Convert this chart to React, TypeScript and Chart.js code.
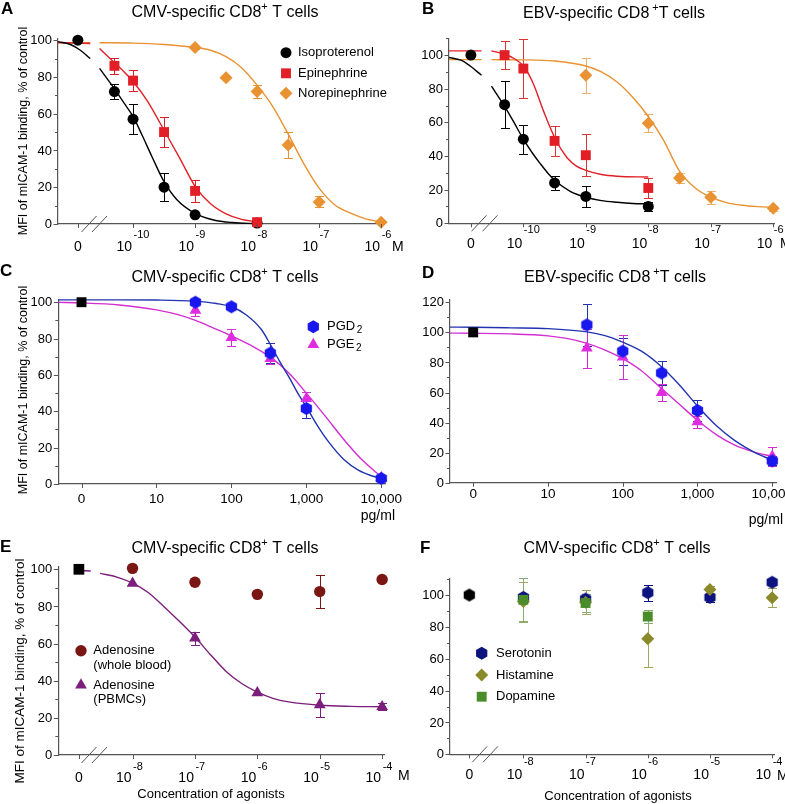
import React, { useEffect, useRef } from 'react';
import { Chart, registerables } from 'chart.js';

Chart.register(...registerables);

const FONT = "'Liberation Sans', Arial, Helvetica, sans-serif";
const AXIS = '#555555';
const CONTROL_VALUE = 100;

// ---------------- Panel A: CMV, beta agonists (x = log10 M) ----------------
const A_ZERO_X = -10.89;
const A_X_EXP = [-10, -9, -8, -7, -6];
const A_ISO_X = [-10.3, -10, -9.5, -9, -8];
const A_ISO_Y = [72, 57, 20, 5, 0.5];
const A_ISO_ERR = [4, 8, 7.5, 0, 0];
const A_EPI_X = [-10.3, -10, -9.5, -9, -8];
const A_EPI_Y = [86, 78, 50, 18, 1];
const A_EPI_ERR = [4.5, 5.5, 8, 6, 0];
const A_NOR_X = [-9, -8.5, -8, -7.5, -7, -6];
const A_NOR_Y = [96, 79.5, 72, 43, 12, 1];
const A_NOR_ERR = [1, 0, 3.5, 7, 3, 0];
const A_ISO_FIT_X = [-11.21, -11.0, -10.85, -10.69, -10.6, -10.54, -10.31, -10.15, -10.0, -9.85, -9.7, -9.5, -9.3, -9.0, -8.7, -8.4, -8.0];
const A_ISO_FIT_Y = [99.2, 97.5, 94.5, 90, null, 84.6, 74, 66, 58.5, 48, 37, 23, 13.5, 5.8, 2.2, 0.8, 0.2];
const A_EPI_FIT_X = [-11.21, -10.69, -10.6, -10.54, -10.31, -10.15, -10.0, -9.77, -9.5, -9.25, -9.0, -8.75, -8.5, -8.25, -8.0];
const A_EPI_FIT_Y = [98.7, 98.2, null, 95.5, 88, 83, 77.5, 67, 51, 36, 20.5, 11, 5.5, 2.5, 1.2];
const A_NOR_FIT_X = [-11.21, -10.69, -10.6, -10.54, -10.0, -9.5, -9.0, -8.75, -8.5, -8.25, -8.0, -7.75, -7.5, -7.25, -7.0, -6.75, -6.5, -6.25, -5.97];
const A_NOR_FIT_Y = [98.6, 98.6, null, 98.6, 98.4, 97.6, 96, 94.5, 91, 85, 75.5, 64, 49, 33, 19.5, 10.5, 6, 2.8, 1];

// ---------------- Panel B: EBV, beta agonists ----------------
const B_ZERO_X = -10.84;
const B_X_EXP = [-10, -9, -8, -7, -6];
const B_ISO_X = [-10.3, -10, -9.5, -9, -8];
const B_ISO_Y = [70.5, 50, 24, 16, 10];
const B_ISO_ERR = [14, 8.7, 4.4, 6.4, 2.5];
const B_EPI_X = [-10.3, -10, -9.5, -9, -8];
const B_EPI_Y = [100, 92, 49, 40.5, 21];
const B_EPI_ERR = [8.5, 17.5, 9, 12.5, 6];
const B_NOR_X = [-9, -8, -7.5, -7, -6];
const B_NOR_Y = [88, 59.5, 27, 15.5, 9];
const B_NOR_ERR = [10.5, 5.5, 3, 4, 1.5];
const B_ISO_FIT_X = [-11.19, -11.0, -10.85, -10.67, -10.6, -10.51, -10.3, -10.15, -10.0, -9.85, -9.73, -9.6, -9.48, -9.25, -9.0, -8.75, -8.5, -8.25, -8.0];
const B_ISO_FIT_Y = [98.6, 97, 93.5, 88, null, 81.5, 69.5, 60, 50, 41.5, 35.5, 29.5, 25, 19, 15.5, 13.5, 12.5, 11.8, 11.5];
const B_EPI_FIT_X = [-11.19, -10.67, -10.6, -10.51, -10.3, -10.15, -10.0, -9.84, -9.68, -9.48, -9.3, -9.15, -9.0, -8.75, -8.5, -8.0];
const B_EPI_FIT_Y = [102.5, 102.5, null, 102.5, 100.5, 98, 93.5, 83, 67, 49.5, 39, 34, 31.5, 29, 28, 27.5];
const B_NOR_FIT_X = [-11.19, -10.67, -10.6, -10.51, -10.0, -9.5, -9.0, -8.75, -8.5, -8.25, -8.0, -7.75, -7.5, -7.25, -7.0, -6.75, -6.5, -6.25, -5.98];
const B_NOR_FIT_Y = [97.3, 97.3, null, 97.3, 97.2, 96.5, 93.5, 90, 84, 75, 63.5, 49, 31, 21, 15.5, 12.3, 10.7, 9.9, 9.5];

// ---------------- Panel C: CMV, prostaglandins (x = log10 pg/ml) ----------------
const C_ZERO_X = 0;
const C_X_TICK_VALUES = [0, 1, 2, 3, 4];
const C_X_TICK_LABELS = ['0', '10', '100', '1,000', '10,000'];
const C_PGD_X = [1.52, 2, 2.52, 3, 4];
const C_PGD_Y = [100, 97.5, 72, 41.5, 3];
const C_PGD_ERR = [1.5, 1, 5.5, 5, 0];
const C_PGE_X = [1.52, 2, 2.52, 3, 4];
const C_PGE_Y = [95.5, 80.5, 69, 47, 3.5];
const C_PGE_ERR = [3, 4.5, 3, 3.5, 0];
const C_PGD_FIT_X = [-0.31, 0.5, 1.0, 1.5, 1.8, 2.0, 2.2, 2.4, 2.53, 2.65, 2.78, 2.9, 3.0, 3.15, 3.3, 3.5, 3.7, 3.85, 4.0];
const C_PGD_FIT_Y = [101.3, 101.3, 101.2, 100.6, 99.3, 97.5, 93, 85, 76, 67, 58, 49, 42.5, 32, 23, 13.5, 7.5, 4.8, 3];
const C_PGE_FIT_X = [-0.31, 0, 0.5, 1.0, 1.3, 1.52, 1.75, 2.0, 2.25, 2.53, 2.78, 3.0, 3.25, 3.5, 3.75, 4.0];
const C_PGE_FIT_Y = [99.9, 99.6, 98.5, 95.8, 93, 90, 86, 81.5, 76.5, 69.5, 60.5, 50, 37.5, 24.5, 13, 4];

// ---------------- Panel D: EBV, prostaglandins ----------------
const D_ZERO_X = 0;
const D_X_TICK_VALUES = [0, 1, 2, 3, 4];
const D_X_TICK_LABELS = ['0', '10', '100', '1,000', '10,000'];
const D_PGD_X = [1.52, 2, 2.52, 3, 4];
const D_PGD_Y = [105, 87.5, 73, 48, 14.5];
const D_PGD_ERR = [14, 9, 8, 7, 3];
const D_PGE_X = [1.52, 2, 2.52, 3, 4];
const D_PGE_Y = [89.5, 83.5, 60, 40.5, 17.5];
const D_PGE_ERR = [13, 14.5, 5.5, 4, 6.5];
const D_PGD_FIT_X = [-0.31, 0, 0.5, 1.0, 1.5, 1.75, 2.0, 2.25, 2.5, 2.75, 3.0, 3.25, 3.5, 3.75, 4.0];
const D_PGD_FIT_Y = [103.5, 103.4, 103, 102.5, 100.5, 98, 93.5, 87.5, 78, 65.5, 51, 38, 28, 20.5, 15];
const D_PGE_FIT_X = [-0.31, 0, 0.5, 1.0, 1.25, 1.5, 1.75, 2.0, 2.25, 2.5, 2.75, 3.0, 3.25, 3.5, 3.75, 4.0];
const D_PGE_FIT_Y = [99.5, 99.4, 99, 97.7, 96, 93, 88.5, 82.5, 74.5, 63.5, 52.5, 41.5, 32, 25, 20.5, 17.5];

// ---------------- Panel E: CMV, adenosine (x = log10 M) ----------------
const E_ZERO_X = -8.86;
const E_X_EXP = [-8, -7, -6, -5, -4];
const E_WB_X = [-8, -7, -6, -5, -4];
const E_WB_Y = [100.5, 93, 86.5, 88, 94.5];
const E_WB_ERR = [0, 0, 1.5, 9, 0];
const E_PB_X = [-8, -7, -6, -5, -4];
const E_PB_Y = [92.5, 63, 33.5, 27, 26];
const E_PB_ERR = [0, 3.5, 0, 6.5, 2];
const E_PB_FIT_X = [-8.86, -8.67, -8.6, -8.52, -8.25, -8.0, -7.75, -7.5, -7.25, -7.0, -6.75, -6.5, -6.25, -6.0, -5.75, -5.5, -5.0, -4.5, -4.0];
const E_PB_FIT_Y = [99.3, 99.1, null, 97.8, 95.8, 92.5, 87.5, 80, 72, 63.5, 54, 45, 38.5, 33.8, 30.5, 28.6, 26.8, 26.2, 26];

// ---------------- Panel F: CMV, amines ----------------
const F_ZERO_X = -8.87;
const F_X_EXP = [-8, -7, -6, -5, -4];
const F_SER_X = [-8, -7, -6, -5, -4];
const F_SER_Y = [98.5, 97.5, 101.5, 98.5, 108];
const F_SER_ERR = [0, 0, 5, 3, 2];
const F_HIS_X = [-8, -7, -6, -5, -4];
const F_HIS_Y = [96, 95.5, 72.5, 103.5, 98.3];
const F_HIS_ERR = [12, 7.5, 18, 2, 6];
const F_DOP_X = [-8, -7, -6];
const F_DOP_Y = [97, 95, 86.5];
const F_DOP_ERR = [14, 5.5, 4];

// ---------------- colours ----------------
const C_BLACK = '#000000';
const C_RED = '#E21F26';
const C_ORANGE = '#E99231';
const C_BLUE = '#1818EE';
const C_BLUE_LINE = '#2233B0';
const C_MAGENTA = '#E02CE0';
const C_MAGENTA_LINE = '#D22ED2';
const C_DARKRED = '#7A1714';
const C_PURPLE = '#7B1E7C';
const C_NAVY = '#0C137F';
const C_OLIVE = '#8B8A2B';
const C_GREEN = '#4A8C2A';

const expTicks = (exps: number[], zero: number) => [
  { v: zero, text: '0' },
  ...exps.map((e) => ({ v: e, exp: String(e) })),
];
const labTicks = (vals: number[], labels: string[]) => vals.map((v, i) => ({ v, text: labels[i] }));
const pts = (xs: number[], ys: any[]) => xs.map((x, i) => ({ x, y: ys[i] }));

const PANELS: any[] = [
  {
    id: 'A', box: { x: 0, y: 0, w: 404, h: 262 },
    plot: { l: 58, t: 38.3, r: 383, b: 224 },
    xMin: -11.21, xMax: -5.97, yMax: 101,
    yLabels: [0, 20, 40, 60, 80, 100], yMinor: [10, 30, 50, 70, 90],
    xTicks: expTicks(A_X_EXP, A_ZERO_X), tickBase: 251, expDy: -13, tickSize: 14,
    unit: { text: 'M', x: 392, y: 251, align: 'left' },
    breaks: [89, 99.5],
    title: { pre: 'CMV-specific CD8', post: ' T cells', gap: 0, x: 225, y: 17 },
    letter: { t: 'A', x: 1, y: 14 },
    yTitle: { x: 24, y: 131, size: 12.5 },
    control: { x: A_ZERO_X, style: 'circle', r: 5.5 },
    series: [
      { x: A_ISO_X, y: A_ISO_Y, err: A_ISO_ERR, color: C_BLACK, errColor: C_BLACK, style: 'circle', r: 5.5, order: 3 },
      { x: A_EPI_X, y: A_EPI_Y, err: A_EPI_ERR, color: C_RED, errColor: C_RED, style: 'rect', r: 7, order: 2 },
      { x: A_NOR_X, y: A_NOR_Y, err: A_NOR_ERR, color: C_ORANGE, errColor: C_ORANGE, style: 'rectRot', r: 6.5, order: 1 },
    ],
    curves: [
      { x: A_ISO_FIT_X, y: A_ISO_FIT_Y, color: C_BLACK },
      { x: A_EPI_FIT_X, y: A_EPI_FIT_Y, color: C_RED },
      { x: A_NOR_FIT_X, y: A_NOR_FIT_Y, color: C_ORANGE },
    ],
    legend: {
      mx: 286, tx: 298, size: 13, lineGap: 14,
      items: [
        { y: 52.7, style: 'circle', r: 5.5, color: C_BLACK, lines: ['Isoproterenol'] },
        { y: 73.3, style: 'rect', r: 7, color: C_RED, lines: ['Epinephrine'] },
        { y: 93.3, style: 'rectRot', r: 6.5, color: C_ORANGE, lines: ['Norepinephrine'] },
      ],
    },
  },
  {
    id: 'B', box: { x: 392, y: 0, w: 393, h: 262 },
    plot: { l: 449, t: 38.3, r: 774.5, b: 223.3 },
    xMin: -11.19, xMax: -5.98, yMax: 110,
    yLabels: [0, 20, 40, 60, 80, 100], yMinor: [10, 30, 50, 70, 90, 110],
    xTicks: expTicks(B_X_EXP, B_ZERO_X), tickBase: 248, expDy: -15, tickSize: 14,
    unit: { text: 'M', x: 780, y: 248, align: 'left' },
    breaks: [479, 490],
    title: { pre: 'EBV-specific CD8', post: 'T cells', gap: 3, x: 614, y: 18 },
    letter: { t: 'B', x: 422, y: 14 },
    control: { x: B_ZERO_X, style: 'circle', r: 5.5 },
    series: [
      { x: B_ISO_X, y: B_ISO_Y, err: B_ISO_ERR, color: C_BLACK, errColor: C_BLACK, style: 'circle', r: 5.5, order: 3 },
      { x: B_EPI_X, y: B_EPI_Y, err: B_EPI_ERR, color: C_RED, errColor: '#D83434', style: 'rect', r: 7, order: 2 },
      { x: B_NOR_X, y: B_NOR_Y, err: B_NOR_ERR, color: C_ORANGE, errColor: '#EDAE6C', style: 'rectRot', r: 6.5, order: 1 },
    ],
    curves: [
      { x: B_ISO_FIT_X, y: B_ISO_FIT_Y, color: C_BLACK },
      { x: B_EPI_FIT_X, y: B_EPI_FIT_Y, color: C_RED },
      { x: B_NOR_FIT_X, y: B_NOR_FIT_Y, color: C_ORANGE },
    ],
  },
  {
    id: 'C', box: { x: 0, y: 262, w: 404, h: 266 },
    plot: { l: 58.3, t: 299.3, r: 385, b: 484 },
    xMin: -0.31, xMax: 4.05, yMax: 101.6,
    yLabels: [0, 20, 40, 60, 80, 100], yMinor: [10, 30, 50, 70, 90],
    xTicks: labTicks(C_X_TICK_VALUES, C_X_TICK_LABELS), tickBase: 502.5, tickSize: 13.5,
    unit: { text: 'pg/ml', x: 395, y: 520, align: 'right' },
    title: { pre: 'CMV-specific CD8', post: ' T cells', gap: 0, x: 225, y: 281.5 },
    letter: { t: 'C', x: 0, y: 276 },
    yTitle: { x: 24, y: 390, size: 12.5 },
    control: { x: C_ZERO_X, style: 'rect', r: 7 },
    series: [
      { x: C_PGD_X, y: C_PGD_Y, err: C_PGD_ERR, color: C_BLUE, errColor: C_BLUE_LINE, style: 'hex', r: 6.5, order: 1 },
      { x: C_PGE_X, y: C_PGE_Y, err: C_PGE_ERR, color: C_MAGENTA, errColor: C_MAGENTA_LINE, style: 'triangle', r: 6.8, order: 2 },
    ],
    curves: [
      { x: C_PGD_FIT_X, y: C_PGD_FIT_Y, color: C_BLUE_LINE },
      { x: C_PGE_FIT_X, y: C_PGE_FIT_Y, color: C_MAGENTA_LINE },
    ],
    legend: {
      mx: 313.3, tx: 327, size: 13, lineGap: 14,
      items: [
        { y: 326.7, style: 'hex', r: 6.5, color: C_BLUE, lines: ['PGD'], sub: '2' },
        { y: 344.5, style: 'triangle', r: 6.8, color: C_MAGENTA, lines: ['PGE'], sub: '2' },
      ],
    },
  },
  {
    id: 'D', box: { x: 392, y: 262, w: 393, h: 266 },
    plot: { l: 450, t: 299.3, r: 776, b: 482.7 },
    xMin: -0.31, xMax: 4.05, yMax: 122,
    yLabels: [0, 20, 40, 60, 80, 100, 120], yMinor: [10, 30, 50, 70, 90, 110],
    xTicks: labTicks(D_X_TICK_VALUES, D_X_TICK_LABELS), tickBase: 498, tickSize: 13.5,
    unit: { text: 'pg/ml', x: 783, y: 523.5, align: 'right' },
    title: { pre: 'EBV-specific CD8', post: 'T cells', gap: 3, x: 615, y: 282 },
    letter: { t: 'D', x: 422, y: 278 },
    control: { x: D_ZERO_X, style: 'rect', r: 7 },
    series: [
      { x: D_PGD_X, y: D_PGD_Y, err: D_PGD_ERR, color: C_BLUE, errColor: C_BLUE_LINE, style: 'hex', r: 6.5, order: 1 },
      { x: D_PGE_X, y: D_PGE_Y, err: D_PGE_ERR, color: C_MAGENTA, errColor: C_MAGENTA_LINE, style: 'triangle', r: 6.8, order: 2 },
    ],
    curves: [
      { x: D_PGD_FIT_X, y: D_PGD_FIT_Y, color: C_BLUE_LINE },
      { x: D_PGE_FIT_X, y: D_PGE_FIT_Y, color: C_MAGENTA_LINE },
    ],
  },
  {
    id: 'E', box: { x: 0, y: 528, w: 414, h: 276 },
    plot: { l: 58.3, t: 566.7, r: 384, b: 755 },
    xMin: -9.19, xMax: -3.97, yMax: 101.4,
    yLabels: [0, 20, 40, 60, 80, 100], yMinor: [10, 30, 50, 70, 90],
    xTicks: expTicks(E_X_EXP, E_ZERO_X), tickBase: 782, expDy: -12, tickSize: 14,
    unit: { text: 'M', x: 398, y: 780, align: 'left' },
    breaks: [89, 99.5],
    title: { pre: 'CMV-specific CD8', post: ' T cells', gap: 0, x: 225, y: 553 },
    letter: { t: 'E', x: 0, y: 552 },
    yTitle: { x: 20, y: 671, size: 13.5 },
    xTitle: { text: 'Concentration of agonists', x: 211, y: 798 },
    control: { x: E_ZERO_X, style: 'rect', r: 7.6 },
    series: [
      { x: E_WB_X, y: E_WB_Y, err: E_WB_ERR, color: C_DARKRED, errColor: C_DARKRED, style: 'circle', r: 5.7, order: 1 },
      { x: E_PB_X, y: E_PB_Y, err: E_PB_ERR, color: C_PURPLE, errColor: C_PURPLE, style: 'triangle', r: 6.8, order: 2 },
    ],
    curves: [{ x: E_PB_FIT_X, y: E_PB_FIT_Y, color: C_PURPLE }],
    legend: {
      mx: 81, tx: 93.3, size: 13, lineGap: 14.3,
      items: [
        { y: 650.7, style: 'circle', r: 5.7, color: C_DARKRED, lines: ['Adenosine', '(whole blood)'] },
        { y: 685, style: 'triangle', r: 6.8, color: C_PURPLE, lines: ['Adenosine', '(PBMCs)'] },
      ],
    },
  },
  {
    id: 'F', box: { x: 392, y: 528, w: 393, h: 276 },
    plot: { l: 450, t: 578.3, r: 774, b: 754.3 },
    xMin: -9.18, xMax: -3.97, yMax: 110.5,
    yLabels: [0, 20, 40, 60, 80, 100], yMinor: [10, 30, 50, 70, 90, 110],
    xTicks: expTicks(F_X_EXP, F_ZERO_X), tickBase: 779, expDy: -14, tickSize: 14,
    unit: { text: 'M', x: 777, y: 780, align: 'left' },
    breaks: [479.7, 490.5],
    title: { pre: 'CMV-specific CD8', post: ' T cells', gap: 0, x: 617, y: 553 },
    letter: { t: 'F', x: 420, y: 553 },
    xTitle: { text: 'Concentration of agonists', x: 618, y: 800 },
    control: { x: F_ZERO_X, style: 'hex', r: 6.5 },
    series: [
      { x: F_SER_X, y: F_SER_Y, err: F_SER_ERR, color: C_NAVY, errColor: C_NAVY, style: 'hex', r: 6.5, order: 3 },
      { x: F_HIS_X, y: F_HIS_Y, err: F_HIS_ERR, color: C_OLIVE, errColor: '#A3A55E', style: 'rectRot', r: 6.5, order: 2 },
      { x: F_DOP_X, y: F_DOP_Y, err: F_DOP_ERR, color: C_GREEN, errColor: '#86AE72', style: 'rect', r: 7, order: 1 },
    ],
    curves: [],
    legend: {
      mx: 481.7, tx: 496, size: 13, lineGap: 14,
      items: [
        { y: 653.3, style: 'hex', r: 6.5, color: C_NAVY, lines: ['Serotonin'] },
        { y: 675, style: 'rectRot', r: 6.5, color: C_OLIVE, lines: ['Histamine'] },
        { y: 696.7, style: 'rect', r: 7, color: C_GREEN, lines: ['Dopamine'] },
      ],
    },
  },
];

function hexPath(ctx: CanvasRenderingContext2D, x: number, y: number, r: number) {
  ctx.beginPath();
  for (let k = 0; k < 6; k++) {
    const a = -Math.PI / 2 + (k * Math.PI) / 3;
    const px = x + r * Math.cos(a);
    const py = y + r * Math.sin(a);
    if (k === 0) ctx.moveTo(px, py);
    else ctx.lineTo(px, py);
  }
  ctx.closePath();
}

function makeHex(color: string, r: number): HTMLCanvasElement {
  const s = Math.ceil(r * 2 + 2);
  const c = document.createElement('canvas');
  c.width = s;
  c.height = s;
  const g = c.getContext('2d') as CanvasRenderingContext2D;
  g.fillStyle = color;
  hexPath(g, s / 2, s / 2, r);
  g.fill();
  return c;
}

function drawMarker(ctx: CanvasRenderingContext2D, style: string, color: string, x: number, y: number, r: number) {
  ctx.fillStyle = color;
  if (style === 'hex') {
    hexPath(ctx, x, y, r);
    ctx.fill();
    return;
  }
  ctx.beginPath();
  if (style === 'circle') ctx.arc(x, y, r, 0, Math.PI * 2);
  else if (style === 'rect') {
    const h = r * Math.SQRT1_2;
    ctx.rect(x - h, y - h, 2 * h, 2 * h);
  } else if (style === 'rectRot') {
    ctx.moveTo(x, y - r);
    ctx.lineTo(x + r, y);
    ctx.lineTo(x, y + r);
    ctx.lineTo(x - r, y);
    ctx.closePath();
  } else if (style === 'triangle') {
    ctx.moveTo(x, y - r);
    ctx.lineTo(x + r * 0.866, y + r * 0.5);
    ctx.lineTo(x - r * 0.866, y + r * 0.5);
    ctx.closePath();
  }
  ctx.fill();
}

function makeDecor(cfg: any) {
  const ox = cfg.box.x;
  const oy = cfg.box.y;
  return {
    id: 'decor' + cfg.id,
    beforeDatasetsDraw(chart: any) {
      const ctx: CanvasRenderingContext2D = chart.ctx;
      const xs = chart.scales.x;
      const ys = chart.scales.y;
      ctx.save();
      ctx.lineWidth = 1;
      chart.data.datasets.forEach((ds: any) => {
        if (!ds.err) return;
        ctx.strokeStyle = ds.errColor;
        ctx.beginPath();
        ds.data.forEach((p: any, i: number) => {
          const e = ds.err[i];
          if (!e) return;
          const px = Math.round(xs.getPixelForValue(p.x)) + 0.5;
          const y1 = Math.round(ys.getPixelForValue(p.y + e)) + 0.5;
          const y2 = Math.round(ys.getPixelForValue(p.y - e)) + 0.5;
          ctx.moveTo(px, y1);
          ctx.lineTo(px, y2);
          ctx.moveTo(px - 4.5, y1);
          ctx.lineTo(px + 4.5, y1);
          ctx.moveTo(px - 4.5, y2);
          ctx.lineTo(px + 4.5, y2);
        });
        ctx.stroke();
      });
      ctx.restore();
    },
    afterDraw(chart: any) {
      const ctx: CanvasRenderingContext2D = chart.ctx;
      const xs = chart.scales.x;
      const ys = chart.scales.y;
      const area = chart.chartArea;
      ctx.save();
      // tick marks
      ctx.strokeStyle = AXIS;
      ctx.lineWidth = 1;
      ctx.beginPath();
      cfg.yLabels.forEach((v: number) => {
        const py = Math.round(ys.getPixelForValue(v)) + 0.5;
        ctx.moveTo(area.left - 4.5, py);
        ctx.lineTo(area.left, py);
      });
      cfg.yMinor.forEach((v: number) => {
        const py = Math.round(ys.getPixelForValue(v)) + 0.5;
        ctx.moveTo(area.left - 3, py);
        ctx.lineTo(area.left, py);
      });
      cfg.xTicks.forEach((t: any) => {
        const px = Math.round(xs.getPixelForValue(t.v)) + 0.5;
        ctx.moveTo(px, area.bottom);
        ctx.lineTo(px, area.bottom + 4);
      });
      ctx.stroke();
      // axis break
      if (cfg.breaks) {
        ctx.beginPath();
        cfg.breaks.forEach((bx: number) => {
          const cx = bx - ox;
          ctx.moveTo(cx - 7.5, area.bottom + 8);
          ctx.lineTo(cx + 7.5, area.bottom - 8);
        });
        ctx.stroke();
      }
      ctx.fillStyle = '#000';
      // y tick labels
      ctx.font = `13px ${FONT}`;
      ctx.textAlign = 'right';
      ctx.textBaseline = 'middle';
      cfg.yLabels.forEach((v: number) => {
        ctx.fillText(String(v), area.left - 6, ys.getPixelForValue(v) + 0.5);
      });
      // x tick labels
      ctx.textBaseline = 'alphabetic';
      const base = cfg.tickBase - oy;
      cfg.xTicks.forEach((t: any) => {
        const px = xs.getPixelForValue(t.v);
        if (t.exp) {
          ctx.font = `${cfg.tickSize}px ${FONT}`;
          ctx.textAlign = 'right';
          ctx.fillText('10', px - 1, base);
          ctx.font = `11px ${FONT}`;
          ctx.textAlign = 'left';
          ctx.fillText(t.exp, px + 0.5, base + cfg.expDy);
        } else {
          ctx.font = `${cfg.tickSize}px ${FONT}`;
          ctx.textAlign = 'center';
          ctx.fillText(t.text, px, base);
        }
      });
      // unit
      if (cfg.unit) {
        ctx.font = `14px ${FONT}`;
        ctx.textAlign = cfg.unit.align;
        ctx.fillText(cfg.unit.text, cfg.unit.x - ox, cfg.unit.y - oy);
      }
      // title with superscript
      {
        const t = cfg.title;
        ctx.font = `16px ${FONT}`;
        const w1 = ctx.measureText(t.pre).width;
        const w3 = ctx.measureText(t.post).width;
        ctx.font = `11px ${FONT}`;
        const w2 = ctx.measureText('+').width + t.gap;
        const total = w1 + w2 + w3;
        let x = t.x - ox - total / 2;
        const y = t.y - oy;
        ctx.textAlign = 'left';
        ctx.font = `16px ${FONT}`;
        ctx.fillText(t.pre, x, y);
        x += w1;
        ctx.font = `11px ${FONT}`;
        ctx.fillText('+', x + t.gap, y - 7);
        x += w2;
        ctx.font = `16px ${FONT}`;
        ctx.fillText(t.post, x, y);
      }
      // panel letter
      ctx.font = `bold 17px ${FONT}`;
      ctx.textAlign = 'left';
      ctx.fillText(cfg.letter.t, cfg.letter.x - ox, cfg.letter.y - oy);
      // y axis title
      if (cfg.yTitle) {
        ctx.save();
        ctx.translate(cfg.yTitle.x - ox, cfg.yTitle.y - oy);
        ctx.rotate(-Math.PI / 2);
        ctx.font = `${cfg.yTitle.size}px ${FONT}`;
        ctx.textAlign = 'center';
        ctx.textBaseline = 'middle';
        ctx.fillText('MFI of mICAM-1 binding, % of control', 0, 0);
        ctx.restore();
      }
      // x axis title
      if (cfg.xTitle) {
        ctx.font = `13px ${FONT}`;
        ctx.textAlign = 'center';
        ctx.textBaseline = 'alphabetic';
        ctx.fillText(cfg.xTitle.text, cfg.xTitle.x - ox, cfg.xTitle.y - oy);
      }
      // legend
      if (cfg.legend) {
        const L = cfg.legend;
        L.items.forEach((it: any) => {
          drawMarker(ctx, it.style, it.color, L.mx - ox, it.y - oy, it.r);
          ctx.fillStyle = '#000';
          ctx.textAlign = 'left';
          ctx.textBaseline = 'middle';
          it.lines.forEach((line: string, k: number) => {
            ctx.font = `${L.size}px ${FONT}`;
            const ty = it.y - oy + k * L.lineGap;
            ctx.fillText(line, L.tx - ox, ty);
            if (it.sub && k === 0) {
              const w = ctx.measureText(line).width;
              ctx.font = `10px ${FONT}`;
              ctx.fillText(it.sub, L.tx - ox + w + 1.5, ty + 3.5);
            }
          });
        });
      }
      ctx.restore();
    },
  };
}

function pointStyleFor(style: string, color: string, r: number): any {
  if (style === 'hex') return makeHex(color, r);
  return style;
}

function createChart(canvas: HTMLCanvasElement, cfg: any) {
  const datasets: any[] = [];
  datasets.push({
    data: [{ x: cfg.control.x, y: CONTROL_VALUE }],
    pointStyle: pointStyleFor(cfg.control.style, C_BLACK, cfg.control.r),
    pointRadius: cfg.control.r,
    pointBackgroundColor: C_BLACK,
    pointBorderWidth: 0,
    showLine: false,
    clip: false,
    order: 0,
  });
  cfg.series.forEach((s: any) => {
    datasets.push({
      data: pts(s.x, s.y),
      err: s.err,
      errColor: s.errColor,
      pointStyle: pointStyleFor(s.style, s.color, s.r),
      pointRadius: s.r,
      pointBackgroundColor: s.color,
      pointBorderWidth: 0,
      showLine: false,
      clip: false,
      order: s.order,
    });
  });
  cfg.curves.forEach((c: any) => {
    datasets.push({
      data: pts(c.x, c.y),
      borderColor: c.color,
      borderWidth: 1.4,
      pointRadius: 0,
      showLine: true,
      spanGaps: false,
      cubicInterpolationMode: 'monotone',
      fill: false,
      clip: false,
      order: 50,
    });
  });
  const p = cfg.plot;
  const b = cfg.box;
  const axisOpts = (min: number, max: number) => ({
    type: 'linear',
    min,
    max,
    grid: { display: false, drawTicks: false },
    border: { display: true, color: AXIS, width: 1.2 },
    ticks: { display: false },
  });
  return new Chart(canvas, {
    type: 'scatter',
    data: { datasets },
    options: {
      animation: false,
      responsive: false,
      devicePixelRatio: 1,
      events: [],
      layout: {
        padding: { left: p.l - b.x, top: p.t - b.y, right: b.x + b.w - p.r, bottom: b.y + b.h - p.b },
      },
      plugins: { legend: { display: false }, tooltip: { enabled: false }, title: { display: false } },
      scales: { x: axisOpts(cfg.xMin, cfg.xMax), y: axisOpts(0, cfg.yMax) },
    } as any,
    plugins: [makeDecor(cfg)],
  } as any);
}

function Panel({ cfg }: { cfg: any }) {
  const ref = useRef<HTMLCanvasElement | null>(null);
  useEffect(() => {
    if (!ref.current) return;
    const chart = createChart(ref.current, cfg);
    return () => chart.destroy();
  }, [cfg]);
  return (
    <canvas
      ref={ref}
      width={cfg.box.w}
      height={cfg.box.h}
      style={{ position: 'absolute', left: cfg.box.x, top: cfg.box.y, width: cfg.box.w, height: cfg.box.h }}
    />
  );
}

export default function App() {
  return (
    <div style={{ position: 'absolute', left: 0, top: 0, width: 785, height: 804, background: '#fff', overflow: 'hidden' }}>
      {PANELS.map((p) => (
        <Panel key={p.id} cfg={p} />
      ))}
    </div>
  );
}
